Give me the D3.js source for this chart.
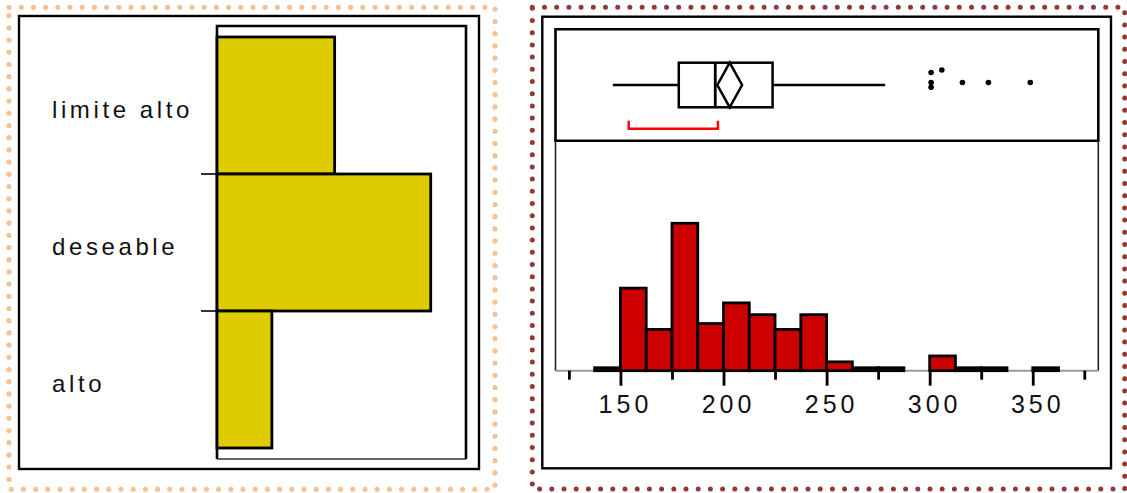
<!DOCTYPE html>
<html>
<head>
<meta charset="utf-8">
<script src="https://cdn.jsdelivr.net/npm/d3@7"></script>
<style>
  body { margin: 0; background: #fff; }
  svg { display: block; }
  text { font-family: "Liberation Sans", Arial, sans-serif; fill: #111; }
</style>
</head>
<body>
<svg id="chart" width="1127" height="493"></svg>
<script>
// Cholesterol level groups and their counts
const levelCategories = ["limite alto", "deseable", "alto"];
const levelCounts = [60, 109, 28];

// Histogram of total cholesterol: bins of width 12.5 starting at 137.5
const binStarts = [137.5, 150, 162.5, 175, 187.5, 200, 212.5, 225, 237.5, 250, 262.5, 275, 287.5, 300, 312.5, 325, 337.5, 350];
const binCounts = [1, 28, 14, 50, 16, 23, 19, 14, 19, 3, 1, 1, 0, 5, 1, 1, 0, 1];
const binWidth = 12.5;

// Outlier box plot summary
const boxStats = [146.3, 178.3, 196, 223.8, 278.4]; // whisker low, Q1, median, Q3, whisker high
const meanDiamond = [197, 203, 209];                 // CI low, mean, CI high
const shortestHalf = [154, 197.3];
const outliers = [300.7, 300.7, 300.7, 305.9, 315.9, 328.5, 348.8];

// Axis ticks
const majorTicks = [150, 200, 250, 300, 350];
const minorTicks = [125, 175, 225, 275, 325, 375];

const svg = d3.select("#chart");

// ---------- dotted panel borders ----------
function dottedBorder(x0, y0, x1, y1, color, width) {
  svg.append("rect")
    .attr("x", x0).attr("y", y0)
    .attr("width", x1 - x0).attr("height", y1 - y0)
    .attr("fill", "none")
    .attr("stroke", color)
    .attr("stroke-width", width)
    .attr("stroke-linecap", "round")
    .attr("stroke-dasharray", "0 12.2");
}
dottedBorder(9, 7.3, 495, 489.3, "#FAC090", 5.2);
dottedBorder(532.3, 7.3, 1124.7, 489, "#953735", 5);

// ---------- left panel: counts by level ----------
const left = svg.append("g");
left.append("rect")
  .attr("x", 19).attr("y", 16).attr("width", 460).attr("height", 453)
  .attr("fill", "none").attr("stroke", "#000").attr("stroke-width", 2.4);

const xLevel = d3.scaleLinear().domain([0, 127]).range([217, 466]);
const yLevel = d3.scaleBand().domain(levelCategories).range([37, 448]).padding(0);

// frame
left.append("path")
  .attr("d", `M${xLevel(0)},459 V26 H${xLevel(127)} V459`)
  .attr("fill", "none").attr("stroke", "#000").attr("stroke-width", 2.6);
left.append("line")
  .attr("x1", xLevel(0)).attr("x2", xLevel(127)).attr("y1", 459).attr("y2", 459)
  .attr("stroke", "#333").attr("stroke-width", 1.6);

left.selectAll("rect.level")
  .data(levelCategories)
  .join("rect")
  .attr("class", "level")
  .attr("x", xLevel(0))
  .attr("y", d => yLevel(d))
  .attr("width", (d, i) => xLevel(levelCounts[i]) - xLevel(0))
  .attr("height", yLevel.bandwidth())
  .attr("fill", "#DFCC00")
  .attr("stroke", "#000")
  .attr("stroke-width", 2.8);

// separators between levels
left.selectAll("line.sep")
  .data(levelCategories.slice(1))
  .join("line")
  .attr("class", "sep")
  .attr("x1", 201).attr("x2", xLevel(0))
  .attr("y1", d => yLevel(d)).attr("y2", d => yLevel(d))
  .attr("stroke", "#000").attr("stroke-width", 1.6);

left.selectAll("text.level")
  .data(levelCategories)
  .join("text")
  .attr("class", "level")
  .attr("x", 52)
  .attr("y", d => yLevel(d) + yLevel.bandwidth() / 2 + 12)
  .attr("font-size", 24)
  .attr("letter-spacing", 3.6)
  .text(d => d);

// ---------- right panel: box plot + histogram ----------
const right = svg.append("g");
right.append("rect")
  .attr("x", 542.3).attr("y", 16.7).attr("width", 568.7).attr("height", 451.6)
  .attr("fill", "none").attr("stroke", "#000").attr("stroke-width", 2.4);

const x = d3.scaleLinear().domain([118.5, 381.8]).range([555.5, 1098.3]);
const yHist = d3.scaleLinear().domain([0, 78]).range([370.7, 140.7]);

// box plot frame
right.append("path")
  .attr("d", `M${x.range()[0]},140.7 V29.3 H${x.range()[1]} V140.7 Z`)
  .attr("fill", "none").attr("stroke", "#000").attr("stroke-width", 2.6);
// histogram side lines
right.append("path")
  .attr("d", `M${x.range()[0]},140.7 V370.7 M${x.range()[1]},140.7 V370.7`)
  .attr("fill", "none").attr("stroke", "#222").attr("stroke-width", 1.6);
// baseline
right.append("line")
  .attr("x1", x.range()[0]).attr("x2", x.range()[1])
  .attr("y1", 370.7).attr("y2", 370.7)
  .attr("stroke", "#999").attr("stroke-width", 2);

// histogram bars
right.selectAll("rect.bin")
  .data(binStarts.map((s, i) => ({ s, c: binCounts[i] })).filter(d => d.c > 0))
  .join("rect")
  .attr("class", "bin")
  .attr("x", d => x(d.s))
  .attr("y", d => yHist(d.c))
  .attr("width", d => x(d.s + binWidth) - x(d.s))
  .attr("height", d => yHist(0) - yHist(d.c))
  .attr("fill", "#CC0000")
  .attr("stroke", "#000")
  .attr("stroke-width", 2.8);

// axis: major ticks with labels, minor ticks without
const axisMajor = right.append("g")
  .attr("transform", "translate(0,370.7)")
  .call(d3.axisBottom(x).tickValues(majorTicks).tickSize(15).tickFormat(d3.format("d")));
const axisMinor = right.append("g")
  .attr("transform", "translate(0,370.7)")
  .call(d3.axisBottom(x).tickValues(minorTicks).tickSize(9).tickFormat(""));
[axisMajor, axisMinor].forEach(g => {
  g.select(".domain").remove();
  g.selectAll(".tick line").attr("stroke", "#000").attr("stroke-width", 2.8);
});
axisMajor.selectAll(".tick text")
  .attr("fill", "#111")
  .attr("font-size", 25)
  .attr("font-family", "\"Liberation Sans\", Arial, sans-serif")
  .attr("letter-spacing", 4)
  .attr("dx", 4.5)
  .attr("dy", 0)
  .attr("y", 42.5);

// box plot
const yMid = 85, boxTop = 62.7, boxBottom = 107.3;
const bp = right.append("g").attr("fill", "none").attr("stroke", "#000").attr("stroke-width", 2.5);
bp.append("line").attr("x1", x(boxStats[0])).attr("x2", x(boxStats[1])).attr("y1", yMid).attr("y2", yMid);
bp.append("line").attr("x1", x(boxStats[3])).attr("x2", x(boxStats[4])).attr("y1", yMid).attr("y2", yMid);
bp.append("rect")
  .attr("x", x(boxStats[1])).attr("y", boxTop)
  .attr("width", x(boxStats[3]) - x(boxStats[1])).attr("height", boxBottom - boxTop);
bp.append("line").attr("x1", x(boxStats[2])).attr("x2", x(boxStats[2]))
  .attr("y1", boxTop).attr("y2", boxBottom).attr("stroke-width", 2.8);
bp.append("path")
  .attr("d", `M${x(meanDiamond[0])},${yMid} L${x(meanDiamond[1])},${boxTop} L${x(meanDiamond[2])},${yMid} L${x(meanDiamond[1])},${boxBottom} Z`);

// shortest half bracket
right.append("path")
  .attr("d", `M${x(shortestHalf[0])},120.7 V128.7 H${x(shortestHalf[1])} V120.7`)
  .attr("fill", "none").attr("stroke", "#FF0000").attr("stroke-width", 2.4);

// outliers, stacked slightly where values coincide
const outlierRow = 82.5;
const outlierJitter = [-10, 0, 4.7, -12.5, 0, 0, 0];
right.selectAll("circle.out")
  .data(outliers)
  .join("circle")
  .attr("class", "out")
  .attr("cx", d => x(d))
  .attr("cy", (d, i) => outlierRow + outlierJitter[i])
  .attr("r", 2.8)
  .attr("fill", "#000");
</script>
</body>
</html>
